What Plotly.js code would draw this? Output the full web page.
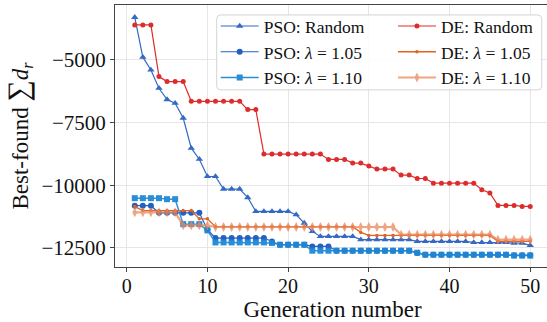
<!DOCTYPE html>
<html>
<head>
<meta charset="utf-8">
<script src="https://cdn.plot.ly/plotly-3.0.1.min.js"></script>
<style>
html,body{margin:0;padding:0;overflow:hidden;background:#fff;}
#chart{width:560px;height:322px;}
</style>
</head>
<body>
<div id="chart"></div>
<script>
const generations = Array.from({length: 50}, (_, i) => i + 1);

const psoRandom = [-3300,-4890,-5400,-6130,-6580,-6725,-7320,-8520,-8960,-9650,
  -9650,-10150,-10150,-10150,-10490,-11045,-11045,-11045,-11045,-11045,
  -11175,-11505,-11840,-12040,-12040,-12040,-12040,-12040,-12170,-12170,
  -12170,-12170,-12170,-12170,-12170,-12240,-12240,-12240,-12240,-12240,
  -12240,-12240,-12280,-12280,-12280,-12280,-12280,-12305,-12305,-12400];

const pso105 = [-10815,-10815,-10815,-11100,-11100,-11100,-11100,-11100,-11100,-11775,
  -12105,-12105,-12105,-12105,-12105,-12105,-12105,-12240,-12370,-12370,
  -12370,-12370,-12440,-12440,-12440,-12610,-12610,-12610,-12610,-12610,
  -12610,-12610,-12610,-12610,-12610,-12700,-12770,-12770,-12770,-12770,
  -12770,-12770,-12770,-12770,-12770,-12770,-12770,-12790,-12790,-12790];

const pso110 = [-10515,-10515,-10515,-10515,-10555,-10555,-11550,-11550,-11550,-11800,
  -12280,-12280,-12280,-12280,-12280,-12280,-12280,-12300,-12370,-12370,
  -12370,-12370,-12610,-12610,-12610,-12610,-12610,-12610,-12610,-12610,
  -12610,-12610,-12610,-12610,-12610,-12690,-12770,-12770,-12770,-12770,
  -12770,-12770,-12770,-12770,-12770,-12770,-12770,-12805,-12805,-12805];

const deRandom = [-3605,-3605,-3605,-5665,-5865,-5865,-5865,-6650,-6650,-6650,
  -6650,-6650,-6650,-6650,-6980,-6980,-8755,-8755,-8755,-8755,
  -8755,-8755,-8755,-8755,-8970,-8970,-8970,-9115,-9115,-9235,
  -9355,-9355,-9355,-9595,-9595,-9730,-9730,-9915,-9915,-9915,
  -9915,-9915,-9915,-10180,-10310,-10805,-10805,-10805,-10845,-10845];

const de105 = [-10850,-11010,-11010,-11010,-11010,-11010,-11010,-11010,-11340,-11340,
  -11650,-11650,-11650,-11650,-11650,-11650,-11650,-11650,-11650,-11650,
  -11650,-11650,-11650,-11650,-11650,-11650,-11650,-11650,-11880,-12000,
  -12000,-12000,-12000,-12000,-12000,-12000,-12000,-12000,-12000,-12000,
  -12000,-12000,-12000,-12000,-12000,-12235,-12235,-12235,-12235,-12235];

const de110 = [-11085,-11085,-11085,-11085,-11085,-11085,-11600,-11600,-11600,-11600,
  -11665,-11665,-11665,-11665,-11665,-11665,-11665,-11665,-11665,-11665,
  -11665,-11665,-11665,-11665,-11665,-11665,-11665,-11665,-11665,-11665,
  -11665,-11665,-11665,-11965,-11965,-11965,-11965,-11965,-11965,-11965,
  -11965,-11965,-11965,-11965,-11965,-12170,-12170,-12170,-12170,-12170];

const seriesNames = ['PSO: Random', 'PSO: <i>λ</i> = 1.05', 'PSO: <i>λ</i> = 1.10',
                     'DE: Random', 'DE: <i>λ</i> = 1.05', 'DE: <i>λ</i> = 1.10'];
const xTickVals = [0, 10, 20, 30, 40, 50];
const yTickVals = [-5000, -7500, -10000, -12500];
const yTickText = ['\u22125000', '\u22127500', '\u221210000', '\u221212500'];

const FONT = 'Liberation Serif, Times New Roman, DejaVu Serif, serif';

function tr(y, name, color, symbol, size, width, opacity, leg) {
  return {
    x: generations, y: y, name: name, type: 'scatter', mode: 'lines+markers',
    line: {color: color, width: width},
    marker: {color: color, symbol: symbol, size: size, line: {width: 0}},
    opacity: opacity, legend: leg
  };
}

const data = [
  tr(psoRandom, seriesNames[0], '#3469c4', 'triangle-up', 6.5, 1.2, 1, 'legend'),
  tr(pso105, seriesNames[1], '#2460c2', 'circle', 6, 1.2, 1, 'legend'),
  tr(pso110, seriesNames[2], '#1f88d4', 'square', 6, 1.4, 0.95, 'legend'),
  tr(deRandom, seriesNames[3], '#dd2c2c', 'circle', 5, 1.2, 1, 'legend2'),
  tr(de105, seriesNames[4], '#e2621f', 'circle', 3.5, 1.3, 1, 'legend2'),
  tr(de110, seriesNames[5], '#e9875a', 'diamond-tall', 7, 2.2, 0.75, 'legend2')
];

const legendCommon = {
  orientation: 'v', xanchor: 'left', y: 0.988, yanchor: 'top',
  bgcolor: 'rgba(0,0,0,0)', borderwidth: 0, tracegroupgap: 0,
  font: {size: 17.5, family: FONT, color: '#111'}, itemwidth: 38
};

// rounded legend frame in paper coordinates
const bx0 = 0.2338, bx1 = 0.981, by0 = 0.676, by1 = 0.962, rx = 0.009, ry = 0.015;
const framePath = `M${bx0 + rx},${by1} L${bx1 - rx},${by1} Q${bx1},${by1} ${bx1},${by1 - ry} ` +
  `L${bx1},${by0 + ry} Q${bx1},${by0} ${bx1 - rx},${by0} L${bx0 + rx},${by0} ` +
  `Q${bx0},${by0} ${bx0},${by0 + ry} L${bx0},${by1 - ry} Q${bx0},${by1} ${bx0 + rx},${by1} Z`;

const layout = {
  width: 560, height: 322,
  margin: {l: 115, r: 10, t: 5, b: 55},
  paper_bgcolor: '#ffffff', plot_bgcolor: '#ffffff',
  font: {family: FONT, color: '#111', size: 20},
  showlegend: true,
  legend: Object.assign({}, legendCommon, {x: 0.2315}),
  legend2: Object.assign({}, legendCommon, {x: 0.639}),
  shapes: [{
    type: 'path', xref: 'paper', yref: 'paper', path: framePath,
    fillcolor: 'rgba(255,255,255,0.85)', line: {color: '#d4d4d4', width: 1}, layer: 'above'
  }],
  xaxis: {
    range: [-1.45, 52.45], tickvals: xTickVals, ticks: 'outside', ticklen: 4, tickcolor: '#444',
    showline: true, linecolor: '#444', linewidth: 1, mirror: true,
    showgrid: true, gridcolor: '#e6e6e6', gridwidth: 1, zeroline: false,
    tickfont: {size: 20, family: FONT}, ticklabelstandoff: -3,
    title: {text: 'Generation number', font: {size: 23, family: FONT}, standoff: 4}
  },
  yaxis: {
    range: [-13260, -2810], tickvals: yTickVals, ticktext: yTickText,
    ticks: 'outside', ticklen: 4, tickcolor: '#444',
    showline: true, linecolor: '#444', linewidth: 1, mirror: true,
    showgrid: true, gridcolor: '#e6e6e6', gridwidth: 1, zeroline: false,
    tickfont: {size: 21, family: FONT},
    title: {text: 'Best-found <span style="font-size:30px">∑</span><i>d</i><sub><i>r</i></sub>', font: {size: 23, family: FONT}, standoff: 6}
  }
};

Plotly.newPlot('chart', data, layout, {staticPlot: true, displayModeBar: false});
</script>
</body>
</html>
